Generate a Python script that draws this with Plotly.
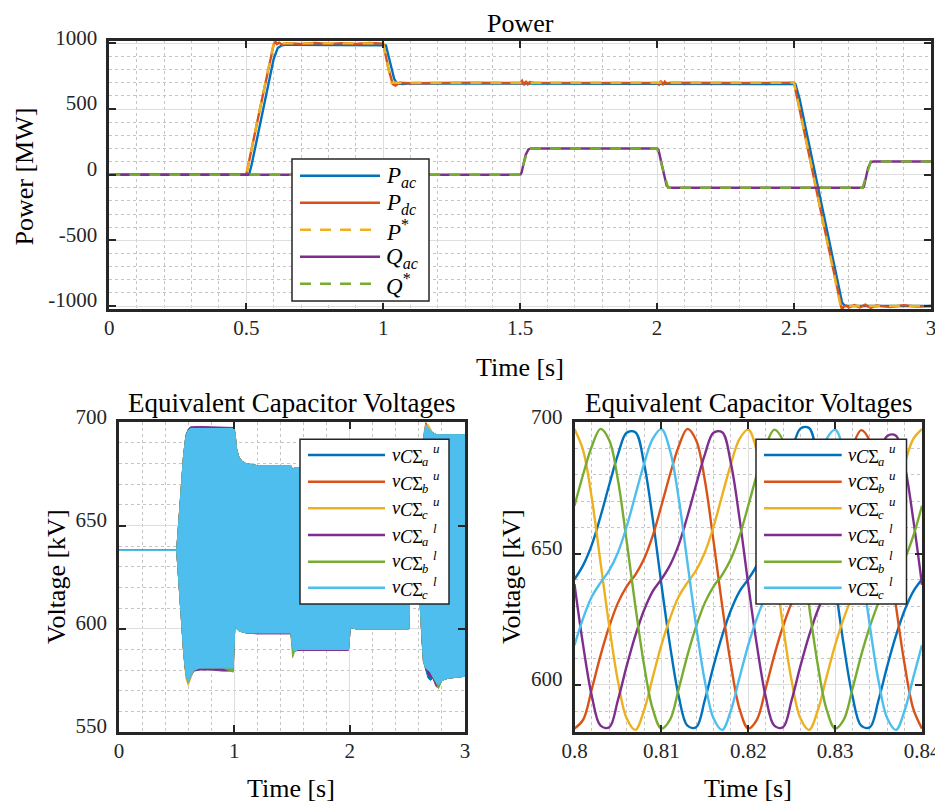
import plotly.graph_objects as go

# browser page has an 8 px body margin: the figure is placed at (8, 8)
OFF = 8
W, H = 943 - OFF, 808 - OFF

# ------------------------------------------------------------------
# Top panel : Power  (MW)
# ------------------------------------------------------------------
t_p_ref = [0.0, 0.5, 0.6, 1.0, 1.03, 2.5, 2.67, 3.0]
p_ref = [0, 0, 1000, 1000, 700, 700, -1000, -1000]

t_p_ac = [0.0, 0.51, 0.52, 0.55, 0.6, 0.615, 0.63, 0.65, 1.0, 1.01, 1.02, 1.04,
          1.05, 1.07, 1.1, 2.5, 2.505, 2.52, 2.66, 2.675, 2.685, 2.7, 3.0]
p_ac = [0, 0, 80, 380, 880, 965, 985, 990, 990, 985, 900, 730,
        695, 690, 695, 695, 690, 580, -820, -970, -1000, -1000, -1000]

t_p_dc = [0.0, 0.5, 0.55, 0.6, 0.607, 0.612, 0.62, 0.63, 0.65, 0.7,
          0.75, 0.8, 0.85, 0.9, 0.95, 1.0, 1.02, 1.035, 1.045, 1.06,
          1.1, 1.3, 1.5, 1.507, 1.514, 1.521, 1.528, 1.535, 1.55, 2.0,
          2.007, 2.014, 2.021, 2.028, 2.035, 2.05, 2.3, 2.5, 2.6, 2.67,
          2.675, 2.68, 2.69, 2.7, 2.72, 2.74, 2.76, 2.78, 2.8, 2.85,
          2.9, 2.95, 3.0]
p_dc = [0, 0, 500, 990, 1012, 995, 1005, 992, 1002, 995,
        1003, 996, 1002, 995, 1003, 998, 800, 690, 678, 700,
        696, 700, 698, 715, 682, 712, 688, 705, 700, 698,
        686, 714, 684, 708, 695, 700, 698, 700, -300, -1000,
        -1030, -1008, -995, -1012, -992, -1010, -990, -1015, -995, -1008,
        -993, -1005, -1000]

t_q_ref = [0.0, 1.5, 1.53, 2.0, 2.04, 2.75, 2.78, 3.0]
q_ref = [0, 0, 200, 200, -100, -100, 100, 100]

t_q_ac = [0.0, 1.5, 1.505, 1.52, 1.53, 1.54, 2.0, 2.005, 2.02, 2.035, 2.045,
          2.75, 2.755, 2.77, 2.78, 2.79, 3.0]
q_ac = [0, 0, 15, 150, 192, 200, 200, 190, 50, -85, -100,
        -100, -92, 50, 95, 100, 100]

power_tickvals = [-1000, -500, 0, 500, 1000]
power_ticktext = ["-1000", "-500", "0", "500", "1000"]
time_tickvals = [0, 0.5, 1, 1.5, 2, 2.5, 3]
time_ticktext = ["0", "0.5", "1", "1.5", "2", "2.5", "3"]

# ------------------------------------------------------------------
# Bottom-left : envelope of the (dense) capacitor voltage ripple (kV)
# ------------------------------------------------------------------
t_env = [0.0, 0.5, 0.52, 0.54, 0.56, 0.58, 0.6, 0.62, 0.65, 0.7,
         0.8, 0.9, 0.99, 1.005, 1.02, 1.04, 1.07, 1.1, 1.2, 1.49,
         1.505, 1.52, 1.55, 1.6, 1.99, 2.005, 2.02, 2.05, 2.1, 2.5,
         2.515, 2.52, 2.55, 2.58, 2.6, 2.61, 2.625, 2.64, 2.66, 2.68,
         2.7, 2.72, 2.75, 2.77, 2.8, 2.85, 2.9, 3.0]

vau_hi = [638, 638, 653, 668, 684, 694, 696.5, 697.5, 697.5, 697.5,
          697.5, 697.5, 697, 695, 687, 683, 681, 680, 679, 679,
          677, 678, 678, 678, 678, 679, 680, 680, 680, 680,
          676, 672, 664, 655, 652, 660, 680, 692, 698, 697,
          696, 695, 694, 694, 694, 694, 694, 694]
vau_lo = [638, 638, 623, 606, 589, 578, 574, 577, 580, 581,
          581, 581, 581, 602, 600, 599, 598.5, 598, 598, 598,
          591, 589, 590, 590, 590, 600, 600.5, 600, 600, 600,
          600, 616, 626, 632, 628, 612, 596, 584, 580, 576,
          575, 576, 574, 573, 575, 576, 576.5, 577]
vbu_hi = [638, 638, 653, 668, 684, 693, 696, 697, 697, 697,
          697, 697, 697, 695, 687, 683, 681, 680, 679, 679,
          677, 678, 678, 678, 678, 679, 680, 680, 680, 680,
          676, 672, 664, 655, 652, 660, 680, 693, 700, 698,
          696, 695, 694, 694, 694, 694, 694, 694]
vbu_lo = [638, 638, 623, 606, 589, 578, 575, 577, 580, 581,
          581, 581, 581, 602, 600, 599, 598.5, 598, 598, 598,
          591, 589, 590, 590, 590, 600, 600.5, 600, 600, 600,
          600, 616, 626, 632, 628, 612, 596, 584, 581, 580,
          579, 577, 574, 573, 575, 576, 576.5, 577]
vcu_hi = [638, 638, 653, 668, 684, 693, 696, 697, 697, 697,
          697, 697, 697, 695, 687, 683, 681, 680, 679, 679,
          677, 678, 678, 678, 678, 679, 680, 680, 680, 680,
          676, 672, 664, 655, 652, 660, 680, 692, 698, 699,
          697, 695, 694, 694, 694, 694, 694, 694]
vcu_lo = [638, 638, 623, 606, 588, 576, 572.5, 576, 580, 581,
          581, 581, 581, 602, 600, 599, 598.5, 598, 598, 598,
          591, 589, 590, 590, 590, 600, 600.5, 600, 600, 600,
          600, 616, 626, 632, 628, 612, 596, 584, 581, 580,
          579, 576, 574, 573, 575, 576, 576.5, 577]
val_hi = [638, 638, 653, 668, 684, 693, 696.5, 697.8, 698, 698,
          697.8, 697.8, 697.5, 695, 687, 683, 681, 680, 679, 679,
          677, 678, 678, 678, 678, 679, 680, 680, 680, 680,
          676, 672, 664, 655, 652, 660, 680, 692, 697, 697,
          696, 695, 694, 694, 694, 694, 694, 694]
val_lo = [638, 638, 623, 606, 589, 578, 574, 577, 579.5, 580,
          580, 579.5, 579.5, 602, 600, 599, 598.5, 598, 597.5, 597.5,
          591, 589, 589.5, 589.5, 589.5, 600, 600.5, 600, 600, 600,
          600, 616, 626, 632, 628, 612, 596, 584, 581, 578,
          577, 576, 572, 571.5, 575, 576, 576.5, 577]
vbl_hi = [638, 638, 653, 668, 684, 693, 696, 697, 697, 697,
          697, 697, 697, 696, 687, 683, 681, 680, 679, 679,
          672, 678, 678, 678, 678, 679, 680, 680, 680, 680,
          676, 672, 664, 655, 652, 660, 680, 692, 697, 697,
          696, 695, 694, 694, 694, 694, 694, 694]
vbl_lo = [638, 638, 623, 606, 589, 578, 574, 577, 580, 581,
          581, 581, 579, 602, 600, 599, 598.5, 598, 598, 598,
          586, 588.5, 590, 590, 590, 603, 600.5, 600, 600, 600,
          600, 616, 626, 632, 628, 612, 596, 584, 581, 580,
          579, 577, 574, 571, 575, 576, 576.5, 577]
vcl_hi = [638, 638, 653, 668, 684, 693, 696, 697, 697, 697,
          697, 697, 697, 695, 687, 683, 681, 680, 679, 679,
          677, 678, 678, 678, 678, 679, 680, 680, 680, 680,
          676, 672, 664, 655, 652, 660, 680, 692, 699, 697,
          696, 695, 694, 694, 694, 694, 694, 694]
vcl_lo = [638, 638, 623, 606, 589, 578, 574, 577, 580, 581,
          581, 581, 581, 602, 600, 599, 598.5, 598, 598, 598,
          591, 589, 590, 590, 590, 600, 600.5, 600, 600, 600,
          600, 616, 626, 632, 628, 612, 596, 584, 581, 580,
          579, 577, 574, 573, 575, 576, 576.5, 577]

volt_tickvals_l = [550, 600, 650, 700]
volt_ticktext_l = ["550", "600", "650", "700"]
time_tickvals_l = [0, 1, 2, 3]
time_ticktext_l = ["0", "1", "2", "3"]

# ------------------------------------------------------------------
# Bottom-right : zoom 0.80 - 0.84 s (kV)
# ------------------------------------------------------------------
t_zoom = [0.800, 0.801, 0.802, 0.803, 0.804, 0.805, 0.806, 0.807, 0.808, 0.809,
          0.810, 0.811, 0.812, 0.813, 0.814, 0.815, 0.816, 0.817, 0.818, 0.819,
          0.820, 0.821, 0.822, 0.823, 0.824, 0.825, 0.826, 0.827, 0.828, 0.829,
          0.830, 0.831, 0.832, 0.833, 0.834, 0.835, 0.836, 0.837, 0.838, 0.839,
          0.840]

z_au = [640.2, 645.6, 653.4, 664.2, 676.2, 687.7, 696.0,
        696.2, 684.4, 663.3, 638.3, 614.9, 595.6, 584.4, 583.8, 594.2, 607.1,
        618.7, 628.4, 635.6, 640.2, 645.6, 653.4, 664.4, 676.8, 688.6, 697.6,
        697.8, 685.0, 663.6, 638.4, 614.9, 595.6, 584.4, 583.8, 594.2, 607.1,
        618.7, 628.4, 635.6, 640.2]
z_bu = [583.3, 586.7, 598.5, 611.2, 622.2, 631.2, 637.4, 641.9, 647.9, 656.7,
        668.2, 680.2, 690.9, 697.5,
        693.2, 678.0, 654.8, 630.1, 607.7, 590.8, 583.3, 586.7, 598.5, 611.2,
        622.2, 631.2, 637.4, 641.9, 647.9, 656.7, 668.2, 680.2, 690.7, 697.0,
        692.8, 677.8, 654.8, 630.1, 607.7, 590.8, 583.3]
z_cu = [697.4, 689.2, 670.9, 646.5, 622.4, 601.4, 587.2, 582.8, 590.2, 602.8,
        615.1, 625.4, 633.6, 638.9, 643.6, 650.4, 660.2, 672.2, 684.1, 693.7,
        697.2, 689.0, 670.9, 646.5, 622.4, 601.4, 587.2, 582.8, 590.2, 602.8,
        615.1, 625.4, 633.6, 638.9, 643.6, 650.4, 660.2, 672.2, 684.1, 693.7,
        697.4]
z_al = [638.3, 614.9, 595.6, 584.4, 583.8, 594.2, 607.1, 618.7, 628.4, 635.6,
        640.2, 645.6, 653.4, 664.2, 676.2, 687.7, 696.0,
        696.2, 684.4, 663.3, 638.3, 614.9, 595.6, 584.4, 583.8, 594.2, 607.1,
        618.7, 628.4, 635.6, 640.2, 645.4, 653.0, 663.6, 675.4, 686.6, 694.8,
        694.9, 683.6, 662.8, 638.1]
z_bl = [668.2, 680.2, 690.9, 697.5,
        693.2, 678.0, 654.8, 630.1, 607.7, 590.8, 583.3, 586.7, 598.5, 611.2,
        622.2, 631.2, 637.4, 641.9, 647.9, 656.7, 668.2, 680.2, 690.8, 697.2,
        693.0, 678.0, 654.8, 630.1, 607.7, 590.8, 583.3, 586.7, 598.5, 611.2,
        622.2, 631.2, 637.4, 641.9, 647.9, 656.7, 668.2]
z_cl = [615.1, 625.4, 633.6, 638.9, 643.6, 650.4, 660.2, 672.2, 684.1, 693.7,
        697.4, 689.2, 670.9, 646.5, 622.4, 601.4, 587.2, 582.8, 590.2, 602.8,
        615.1, 625.4, 633.6, 638.9, 643.6, 650.4, 660.2, 672.2, 684.1, 693.6,
        697.2, 689.1, 670.9, 646.5, 622.4, 601.4, 587.2, 582.8, 590.2, 602.8,
        615.1]

volt_tickvals_r = [600, 650, 700]
volt_ticktext_r = ["600", "650", "700"]
time_tickvals_r = [0.8, 0.81, 0.82, 0.83, 0.84]
time_ticktext_r = ["0.8", "0.81", "0.82", "0.83", "0.84"]

# legend labels
power_labels = ["<i>P</i><sub><i>ac</i></sub>", "<i>P</i><sub><i>dc</i></sub>",
                "<i>P</i><sup>*</sup>", "<i>Q</i><sub><i>ac</i></sub>",
                "<i>Q</i><sup>*</sup>"]
# v_{CΣ_k}^{arm} : (phase subscript, arm superscript)
volt_labels = [("a", "u"), ("b", "u"), ("c", "u"), ("a", "l"), ("b", "l"), ("c", "l")]

# ------------------------------------------------------------------
# Styling
# ------------------------------------------------------------------
C_BLUE, C_ORANGE, C_YELLOW = "#0072BD", "#D95319", "#EDB120"
C_PURPLE, C_GREEN, C_CYAN = "#7E2F8E", "#77AC30", "#4DBEEE"
FONT = "Liberation Serif"
DASH = "11px,9px"


def px(x):
    return (x - OFF) / W


def py(y):
    return 1 - (y - OFF) / H


fig = go.Figure()

# top panel traces
top_series = [
    (t_p_ac, p_ac, C_BLUE, "solid"),
    (t_p_dc, p_dc, C_ORANGE, "solid"),
    (t_p_ref, p_ref, C_YELLOW, DASH),
    (t_q_ac, q_ac, C_PURPLE, "solid"),
    (t_q_ref, q_ref, C_GREEN, DASH),
]
for tx, vy, col, dash in top_series:
    fig.add_trace(go.Scatter(x=tx, y=vy, mode="lines", xaxis="x", yaxis="y",
                             line=dict(color=col, width=2.4, dash=dash),
                             showlegend=False, hoverinfo="skip"))

# bottom-left envelopes (filled ripple bands)
env_series = [
    (vau_hi, vau_lo, C_BLUE), (vbu_hi, vbu_lo, C_ORANGE), (vcu_hi, vcu_lo, C_YELLOW),
    (val_hi, val_lo, C_PURPLE), (vbl_hi, vbl_lo, C_GREEN), (vcl_hi, vcl_lo, C_CYAN),
]
for hi, lo, col in env_series:
    fig.add_trace(go.Scatter(x=t_env + t_env[::-1], y=hi + lo[::-1], mode="lines",
                             fill="toself", fillcolor=col,
                             line=dict(color=col, width=1.0),
                             xaxis="x2", yaxis="y2", showlegend=False, hoverinfo="skip"))

# bottom-right zoom curves
zoom_series = [(z_au, C_BLUE), (z_bu, C_ORANGE), (z_cu, C_YELLOW),
               (z_al, C_PURPLE), (z_bl, C_GREEN), (z_cl, C_CYAN)]
for vy, col in zoom_series:
    fig.add_trace(go.Scatter(x=t_zoom, y=vy, mode="lines", xaxis="x3", yaxis="y3",
                             line=dict(color=col, width=2.4, shape="spline", smoothing=1.0),
                             showlegend=False, hoverinfo="skip"))


def ax(**kw):
    d = dict(showline=True, linecolor="#262626", linewidth=2.5, mirror="ticks",
             ticks="inside", ticklen=7, tickwidth=2, tickcolor="#262626",
             showgrid=True, gridcolor="#dedede", gridwidth=1, zeroline=False,
             tickfont=dict(family=FONT, size=21, color="#262626"),
             layer="above traces", tickmode="array", automargin=False)
    d.update(kw)
    return d


def minor(dt):
    return dict(dtick=dt, showgrid=True, gridcolor="#c4c4c4", griddash="dot", gridwidth=1)


XSTAND = -2
YSHIFT = -6

fig.update_layout(
    width=W, height=H, margin=dict(l=0, r=0, t=0, b=0, autoexpand=False),
    paper_bgcolor="white", plot_bgcolor="white", showlegend=False,
    xaxis=ax(domain=[px(109.3), px(931)], range=[0, 3], anchor="y",
             tickvals=time_tickvals, ticktext=time_ticktext, minor=minor(0.1),
             ticklabelstandoff=XSTAND),
    yaxis=ax(domain=[py(309.3), py(41)], range=[-1025, 1018], anchor="x",
             tickvals=power_tickvals, ticktext=power_ticktext, minor=minor(100),
             ticklabelstandoff=5, ticklabelshift=YSHIFT),
    xaxis2=ax(domain=[px(119), px(465)], range=[0, 3], anchor="y2",
              tickvals=time_tickvals_l, ticktext=time_ticktext_l, minor=minor(0.2),
              ticklabelstandoff=XSTAND),
    yaxis2=ax(domain=[py(732), py(422.3)], range=[550, 700], anchor="x2",
              tickvals=volt_tickvals_l, ticktext=volt_ticktext_l, minor=minor(10),
              ticklabelstandoff=5, ticklabelshift=YSHIFT),
    xaxis3=ax(domain=[px(574.5), px(922)], range=[0.8, 0.84], anchor="y3",
              tickvals=time_tickvals_r, ticktext=time_ticktext_r, minor=minor(0.002),
              ticklabelstandoff=XSTAND),
    yaxis3=ax(domain=[py(732), py(422.3)], range=[582, 700], anchor="x3",
              tickvals=volt_tickvals_r, ticktext=volt_ticktext_r, minor=minor(10),
              ticklabelstandoff=5, ticklabelshift=YSHIFT),
)

# titles and axis labels
texts = [
    ("Power", 520, 23, 26, 0),
    ("Time [s]", 520, 368, 26, 0),
    ("Power [MW]", 24.5, 177, 26, -90),
    ("Equivalent Capacitor Voltages", 291.7, 402.5, 27, 0),
    ("Equivalent Capacitor Voltages", 748, 402.5, 27, 0),
    ("Time [s]", 291, 788, 26, 0),
    ("Time [s]", 748, 788, 26, 0),
    ("Voltage [kV]", 56, 577, 26, -90),
    ("Voltage [kV]", 511, 577, 26, -90),
]
for s, x, y, size, ang in texts:
    fig.add_annotation(text=s, xref="paper", yref="paper", x=px(x), y=py(y),
                       xanchor="center", yanchor="middle", showarrow=False,
                       textangle=ang, font=dict(family=FONT, size=size, color="black"))


def txt(s, x, y, size, xanchor="left"):
    fig.add_annotation(text=s, xref="paper", yref="paper", x=px(x), y=py(y),
                       xanchor=xanchor, yanchor="middle", showarrow=False,
                       borderpad=0, font=dict(family=FONT, size=size, color="black"))


def legend_box(box, lx0, lx1, ys, styles):
    x0, x1, y0, y1 = box
    fig.add_shape(type="rect", xref="paper", yref="paper", x0=px(x0), x1=px(x1),
                  y0=py(y1), y1=py(y0), fillcolor="white",
                  line=dict(color="#262626", width=1.5), layer="above")
    for yy, (col, dash) in zip(ys, styles):
        fig.add_shape(type="line", xref="paper", yref="paper", x0=px(lx0), x1=px(lx1),
                      y0=py(yy), y1=py(yy), line=dict(color=col, width=2.6, dash=dash),
                      layer="above")


# power legend
ys_p = [175.7, 202.7, 229.7, 256.7, 283.7]
legend_box((292, 429, 159, 301), 300, 380, ys_p,
           [(C_BLUE, "solid"), (C_ORANGE, "solid"), (C_YELLOW, DASH),
            (C_PURPLE, "solid"), (C_GREEN, DASH)])
for yy, lab in zip(ys_p, power_labels):
    txt(lab, 385, yy + 1, 23)

# voltage legends (composite LaTeX-like label v_{CΣ_k}^{arm})
ys_v = [455, 481.7, 508.3, 535, 561.7, 587.7]
vstyles = [(C_BLUE, "solid"), (C_ORANGE, "solid"), (C_YELLOW, "solid"),
           (C_PURPLE, "solid"), (C_GREEN, "solid"), (C_CYAN, "solid")]
for box, lx0, lx1, tx in [((300, 449, 439.3, 604), 308, 385, 391),
                          ((756, 906.5, 439.3, 604), 764, 841.7, 846.5)]:
    legend_box(box, lx0, lx1, ys_v, vstyles)
    for yy, (ph, arm) in zip(ys_v, volt_labels):
        txt("<i>v</i>", tx, yy - 0.5, 18.5)
        txt("<i>C</i>Σ", tx + 8.3, yy + 2.1, 18.5)
        txt("<i>%s</i>" % ph, tx + 30, yy + 6.8, 12.5)
        txt("<i>%s</i>" % arm, tx + 41, yy - 6.4, 13)

fig.write_html("out.html")
